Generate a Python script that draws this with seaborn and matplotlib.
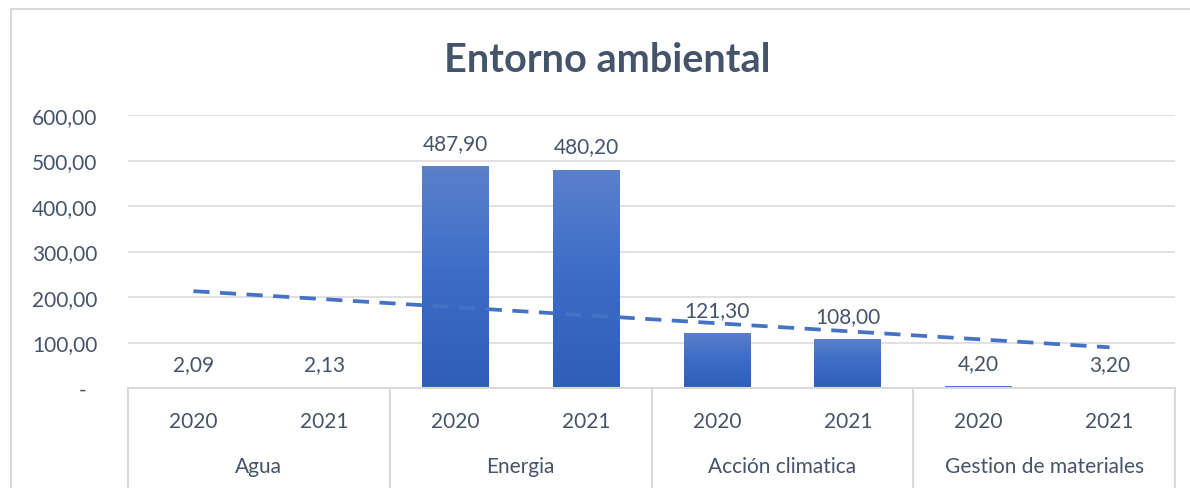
import numpy as np
import pandas as pd
import matplotlib
matplotlib.use("Agg")
import matplotlib.pyplot as plt
from matplotlib.lines import Line2D
from matplotlib.colors import LinearSegmentedColormap
import matplotlib.transforms as mtransforms
import seaborn as sns

# ---- data ----
grupos = ["Agua", "Energia", "Acción climatica", "Gestion de materiales"]
anios = ["2020", "2021"]
valores = [2.09, 2.13, 487.90, 480.20, 121.30, 108.00, 4.20, 3.20]
titulo = "Entorno ambiental"
yticks = [0, 100, 200, 300, 400, 500, 600]

TXT = "#44546A"
GRID = "#D9D9D9"
BLUE = "#4472C4"
FS = 15

sns.set_theme(style="white")
plt.rcParams["font.family"] = ["Lato", "DejaVu Sans"]

cats = [f"{g}|{a}" for g in grupos for a in anios]
df = pd.DataFrame({"cat": cats, "valor": valores})

W, H = 1190, 489
fig = plt.figure(figsize=(W / 100, H / 100), dpi=100)
fig.patch.set_facecolor("white")
L, R, T, B = 128, 1175, 116, 389
ax = fig.add_axes([L / W, 1 - B / H, (R - L) / W, (B - T) / H])

sns.barplot(data=df, x="cat", y="valor", order=cats, color=BLUE, width=0.51,
            ax=ax, errorbar=None, saturation=1)

ax.set_ylim(0, 600)
ax.set_xlim(-0.5, len(cats) - 0.5)
ax.set_yticks(yticks)
ax.set_yticklabels(["-  " if v == 0 else f"{v:.2f}".replace(".", ",") for v in yticks],
                   color=TXT, fontsize=FS)
ax.tick_params(axis="y", length=0, pad=22)
ax.set_xticks([])
ax.set_xlabel("")
ax.set_ylabel("")
for s in ax.spines.values():
    s.set_visible(False)
ax.yaxis.grid(True, color=GRID, lw=1.1)
ax.set_axisbelow(True)

# gradient bars
cmap = LinearSegmentedColormap.from_list("g", ["#2E5FB8", "#3B6CC6", "#5B80CC"])
grad = np.linspace(0, 1, 256).reshape(-1, 1)
for p in list(ax.patches):
    x0, y0 = p.get_x(), p.get_y()
    w, h = p.get_width(), p.get_height()
    p.set_facecolor("none")
    p.set_edgecolor("none")
    im = ax.imshow(grad, cmap=cmap, aspect="auto", origin="lower",
                   extent=(x0, x0 + w, y0, y0 + h), zorder=2)
    im.set_clip_path(p)
ax.set_xlim(-0.5, len(cats) - 0.5)
ax.set_ylim(0, 600)

# data labels
for i, v in enumerate(valores):
    ax.annotate(f"{v:.2f}".replace(".", ","), (i, v), xytext=(0, 16.5),
                textcoords="offset points", ha="center", va="center",
                fontsize=FS, color=TXT, zorder=4)

# linear trend line
xs = np.arange(len(valores))
m, c = np.polyfit(xs, valores, 1)
ax.plot(xs, m * xs + c, color=BLUE, lw=2.7, dashes=(4.3, 2.8), zorder=3,
        solid_capstyle="butt", dash_capstyle="butt")

# multi-level category axis
tr = mtransforms.blended_transform_factory(ax.transData, ax.transAxes)
ax.add_line(Line2D([-0.5, len(cats) - 0.5], [0, 0], transform=tr, color=GRID,
                   lw=1.5, clip_on=False))
for k in range(len(grupos) + 1):
    xk = -0.5 + 2 * k
    ax.add_line(Line2D([xk, xk], [0, -0.37], transform=tr, color=GRID,
                       lw=1.5, clip_on=False))
for i, c_ in enumerate(cats):
    ax.text(i, -0.121, c_.split("|")[1], transform=tr, ha="center", va="center",
            fontsize=FS, color=TXT)
for k, g in enumerate(grupos):
    ax.text(2 * k + 0.5, -0.286, g, transform=tr, ha="center", va="center",
            fontsize=FS, color=TXT)

# title
fig.text(607 / W, 1 - 61 / H, titulo, ha="center", va="center",
         fontsize=28.5, fontweight="bold", color=TXT)

# outer chart border (top/left)
fig.add_artist(Line2D([11 / W, 11 / W], [0, 1 - 10 / H], transform=fig.transFigure,
                      color=GRID, lw=1.5))
fig.add_artist(Line2D([11 / W, 1], [1 - 10 / H, 1 - 10 / H], transform=fig.transFigure,
                      color=GRID, lw=1.5))

fig.savefig("out.png", dpi=100, facecolor="white")
